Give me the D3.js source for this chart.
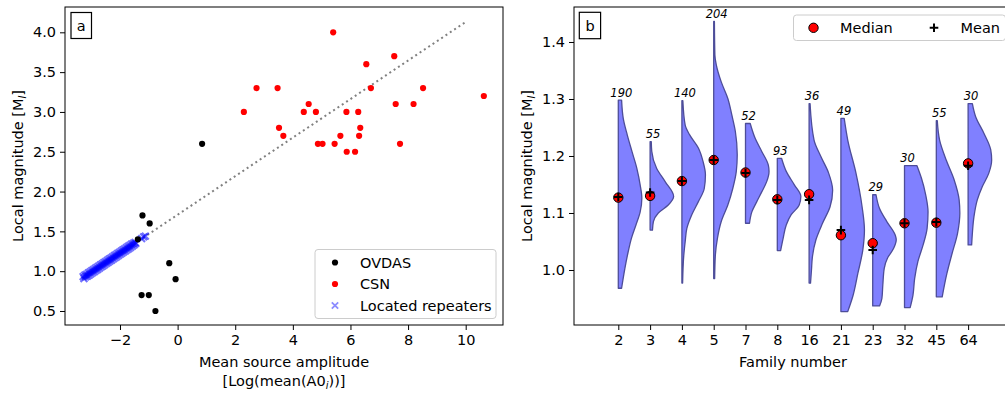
<!DOCTYPE html>
<html><head><meta charset="utf-8">
<script src="https://cdn.jsdelivr.net/npm/d3@7"></script>
<style>
body{margin:0;background:#fff}
text{font-family:"DejaVu Sans",sans-serif;fill:#000}
</style>
</head><body>
<svg id="c" width="1005" height="394"></svg>
<script>
// ---------------- DATA ----------------
// Panel a
const ovdasX = [-1.22, -0.97, -1.38, -0.29, -0.07, -1.25, -1.0, -0.77, 0.85];
const ovdasY = [1.70, 1.60, 1.40, 1.10, 0.90, 0.70, 0.70, 0.50, 2.60];
const csnX = [5.40, 7.52, 6.55, 2.74, 3.47, 6.71, 8.52, 10.63, 4.55, 7.57, 8.19, 2.30, 4.38, 4.80, 5.86, 6.27, 3.52, 6.34, 3.67, 5.65, 6.30, 4.87, 5.03, 5.45, 7.72, 5.87, 6.16];
const csnY = [4.0, 3.7, 3.6, 3.3, 3.3, 3.3, 3.3, 3.2, 3.1, 3.1, 3.1, 3.0, 3.0, 3.0, 3.0, 3.0, 2.8, 2.8, 2.7, 2.7, 2.7, 2.6, 2.6, 2.6, 2.6, 2.5, 2.5];
const repX = [-3.28,-3.25,-3.22,-3.19,-3.16,-3.13,-3.10,-3.07,-3.04,-3.01,-2.98,-2.95,-2.92,-2.89,-2.86,-2.83,-2.80,-2.77,-2.74,-2.71,-2.68,-2.65,-2.62,-2.59,-2.56,-2.53,-2.50,-2.47,-2.44,-2.41,-2.38,-2.35,-2.32,-2.29,-2.26,-2.23,-2.20,-2.17,-2.14,-2.11,-2.08,-2.05,-2.02,-1.99,-1.96,-1.93,-1.90,-1.87,-1.84,-1.81,-1.78,-1.75,-1.72,-1.69,-1.66,-1.63,-1.60,-1.57,-1.54,-1.51,-1.48,-1.45,-1.25,-1.18,-1.12];
const repY = [0.931,0.908,0.951,0.928,0.960,0.938,0.978,0.952,0.990,0.966,1.006,0.981,1.020,0.995,1.034,1.010,1.049,1.024,1.063,1.039,1.078,1.053,1.092,1.068,1.107,1.082,1.121,1.097,1.136,1.111,1.150,1.126,1.165,1.140,1.179,1.155,1.194,1.169,1.208,1.184,1.223,1.198,1.237,1.213,1.252,1.227,1.266,1.242,1.281,1.256,1.295,1.271,1.310,1.285,1.324,1.300,1.339,1.314,1.350,1.330,1.360,1.350,1.410,1.430,1.440];
const fitX = [-3.3, 10];
const fitY = [0.91, 4.13];
const xTicksA = [-2, 0, 2, 4, 6, 8, 10];
const yTicksA = [0.5, 1.0, 1.5, 2.0, 2.5, 3.0, 3.5, 4.0];

// Panel b
const families = ["2","3","4","5","7","8","16","21","23","32","45","64"];
const counts = [190, 55, 140, 204, 52, 93, 36, 49, 29, 30, 55, 30];
const medians = [1.127, 1.130, 1.156, 1.193, 1.171, 1.124, 1.133, 1.061, 1.047, 1.082, 1.083, 1.187];
const means = [1.128, 1.136, 1.156, 1.193, 1.170, 1.123, 1.123, 1.070, 1.035, 1.082, 1.084, 1.183];
const violinVals = [
  [1.298,1.266,1.237,1.208,1.178,1.149,1.126,1.102,1.079,1.056,1.032,1.003,0.968],
  [1.225,1.208,1.178,1.155,1.129,1.114,1.100,1.085,1.070],
  [1.297,1.254,1.237,1.214,1.190,1.167,1.143,1.120,1.097,1.073,1.050,1.026,0.977],
  [1.436,1.377,1.360,1.330,1.301,1.272,1.243,1.202,1.173,1.143,1.114,1.085,1.056,1.026,0.985],
  [1.257,1.231,1.208,1.184,1.173,1.155,1.137,1.120,1.102,1.082],
  [1.196,1.173,1.149,1.129,1.114,1.097,1.079,1.056,1.034],
  [1.292,1.228,1.199,1.170,1.140,1.111,1.082,1.053,1.023,1.000,0.977],
  [1.266,1.228,1.170,1.111,1.070,1.035,0.994,0.953,0.927],
  [1.132,1.108,1.085,1.061,1.053,1.038,1.021,1.003,0.974,0.950,0.937],
  [1.183,1.161,1.132,1.102,1.073,1.044,1.015,0.985,0.956,0.934],
  [1.262,1.228,1.193,1.158,1.123,1.100,1.064,1.029,0.994,0.953],
  [1.292,1.269,1.240,1.211,1.193,1.170,1.146,1.123,1.094,1.064,1.044]
];
const violinDens = [
  [0.14,0.21,0.38,0.58,0.79,0.93,1.0,0.93,0.75,0.56,0.42,0.28,0.14],
  [0.05,0.07,0.28,0.64,1.0,0.77,0.35,0.14,0.10],
  [0.04,0.14,0.33,0.70,0.90,1.0,0.95,0.70,0.42,0.21,0.14,0.08,0.03],
  [0.03,0.05,0.11,0.32,0.60,0.77,0.92,1.0,0.96,0.81,0.60,0.32,0.16,0.07,0.04],
  [0.20,0.41,0.69,0.97,1.0,0.90,0.69,0.48,0.27,0.17],
  [0.18,0.38,0.73,1.0,0.93,0.59,0.38,0.25,0.14],
  [0.04,0.21,0.50,0.83,1.0,0.89,0.57,0.29,0.14,0.10,0.06],
  [0.14,0.29,0.64,0.90,1.0,0.93,0.72,0.50,0.29],
  [0.14,0.29,0.60,0.96,1.0,0.89,0.63,0.49,0.43,0.39,0.29],
  [0.53,0.72,0.90,1.0,0.96,0.79,0.57,0.43,0.36,0.24],
  [0.04,0.14,0.42,0.76,0.97,1.0,0.90,0.67,0.45,0.25],
  [0.18,0.32,0.67,0.96,1.0,0.88,0.60,0.39,0.25,0.18,0.15]
];
const yTicksB = [1.0, 1.1, 1.2, 1.3, 1.4];

// ---------------- DRAW ----------------
const svg = d3.select("#c");
const FS = 14.5;

function styleAxis(g){
  g.select(".domain").remove();
  g.selectAll(".tick line").attr("stroke","#000").attr("stroke-width",1);
  g.selectAll(".tick text").attr("font-size",FS).attr("font-family",'"DejaVu Sans",sans-serif');
}

// ===== Panel a =====
const A = {l:65, r:503, t:7, b:325};
const xa = d3.scaleLinear().domain([-3.909, 11.295]).range([A.l, A.r]);
const ya = d3.scaleLinear().domain([0.324, 4.318]).range([A.b, A.t]);
const ga = svg.append("g");

ga.append("g").attr("transform",`translate(0,${A.b})`)
  .call(d3.axisBottom(xa).tickValues(xTicksA).tickSize(5).tickPadding(5).tickFormat(d3.format("d")))
  .call(styleAxis);
ga.append("g").attr("transform",`translate(${A.l},0)`)
  .call(d3.axisLeft(ya).tickValues(yTicksA).tickSize(5).tickPadding(4).tickFormat(d3.format(".1f")))
  .call(styleAxis);

// fit line
ga.append("path")
  .datum(fitX.map((x,i)=>[x, fitY[i]]))
  .attr("d", d3.line().x(d=>xa(d[0])).y(d=>ya(d[1])))
  .attr("fill","none").attr("stroke","#808080").attr("stroke-width",2)
  .attr("stroke-dasharray","2,3.2");

// repeaters (x markers)
const xm = 3.4;
ga.append("g").selectAll("path").data(repX.map((x,i)=>[x, repY[i]])).join("path")
  .attr("transform", d=>`translate(${xa(d[0])},${ya(d[1])})`)
  .attr("d", `M${-xm},${-xm}L${xm},${xm}M${-xm},${xm}L${xm},${-xm}`)
  .attr("stroke","blue").attr("stroke-opacity",0.55).attr("stroke-width",2.1).attr("fill","none");

// OVDAS
ga.append("g").selectAll("circle").data(ovdasX.map((x,i)=>[x, ovdasY[i]])).join("circle")
  .attr("cx", d=>xa(d[0])).attr("cy", d=>ya(d[1])).attr("r",3.1).attr("fill","#000");
// CSN
ga.append("g").selectAll("circle").data(csnX.map((x,i)=>[x, csnY[i]])).join("circle")
  .attr("cx", d=>xa(d[0])).attr("cy", d=>ya(d[1])).attr("r",3.1).attr("fill","#ff0000");

// frame
ga.append("rect").attr("x",A.l).attr("y",A.t).attr("width",A.r-A.l).attr("height",A.b-A.t)
  .attr("fill","none").attr("stroke","#000").attr("stroke-width",1);

// panel label a
ga.append("rect").attr("x",71).attr("y",12.5).attr("width",20.5).attr("height",26)
  .attr("fill","#fff").attr("stroke","#000").attr("stroke-width",1.2);
ga.append("text").attr("x",81.2).attr("y",30.5).attr("text-anchor","middle").attr("font-size",FS).text("a");

// legend a
const lgA = ga.append("g");
lgA.append("rect").attr("x",315).attr("y",249.5).attr("width",181).attr("height",69).attr("rx",3)
  .attr("fill","#fff").attr("fill-opacity",0.8).attr("stroke","#cccccc").attr("stroke-width",1);
const legItems = [
  {label:"OVDAS", type:"dot", color:"#000"},
  {label:"CSN", type:"dot", color:"#ff0000"},
  {label:"Located repeaters", type:"x", color:"blue"}
];
legItems.forEach((it,i)=>{
  const cy = 262.5 + i*21.5;
  if(it.type==="dot"){
    lgA.append("circle").attr("cx",335).attr("cy",cy).attr("r",3.1).attr("fill",it.color);
  } else {
    lgA.append("path").attr("transform",`translate(335,${cy})`)
      .attr("d", `M${-3.2},${-3.2}L${3.2},${3.2}M${-3.2},${3.2}L${3.2},${-3.2}`)
      .attr("stroke","blue").attr("stroke-opacity",0.45).attr("stroke-width",1.8);
  }
  lgA.append("text").attr("x",360).attr("y",cy+5).attr("font-size",FS).text(it.label);
});

// axis labels a
const yla = ga.append("text").attr("transform","translate(23,166) rotate(-90)")
  .attr("text-anchor","middle").attr("font-size",FS);
yla.append("tspan").text("Local magnitude [M");
yla.append("tspan").attr("font-size",10).attr("font-style","italic").attr("dy",3).text("l");
yla.append("tspan").attr("dy",-3).text("]");
ga.append("text").attr("x",284).attr("y",367).attr("text-anchor","middle").attr("font-size",FS)
  .text("Mean source amplitude");
const xl2 = ga.append("text").attr("x",284).attr("y",385.5).attr("text-anchor","middle").attr("font-size",FS);
xl2.append("tspan").text("[Log(mean(A0");
xl2.append("tspan").attr("font-size",10).attr("font-style","italic").attr("dy",3).text("i");
xl2.append("tspan").attr("dy",-3).text("))]");

// ===== Panel b =====
const B = {l:574, r:1012, t:7, b:325};
const xb = d3.scaleLinear().domain([-0.393, 13.38]).range([B.l, B.r]);
const yb = d3.scaleLinear().domain([0.9035, 1.4614]).range([B.b, B.t]);
const gb = svg.append("g");
const pos = families.map((f,i)=>i+1);
const halfW = 0.74;

gb.append("g").attr("transform",`translate(0,${B.b})`)
  .call(d3.axisBottom(xb).tickValues(pos).tickSize(5).tickPadding(5).tickFormat((d)=>families[d-1]))
  .call(styleAxis);
gb.append("g").attr("transform",`translate(${B.l},0)`)
  .call(d3.axisLeft(yb).tickValues(yTicksB).tickSize(5).tickPadding(4).tickFormat(d3.format(".1f")))
  .call(styleAxis);

// violins
families.forEach((f,i)=>{
  const p = pos[i];
  const pts = violinVals[i].map((v,j)=>({v, d:violinDens[i][j]}));
  const a = d3.area()
    .x0(()=>xb(p))
    .x1(d=>xb(p + halfW*d.d))
    .y(d=>yb(d.v))
    .curve(d3.curveMonotoneY);
  gb.append("path").datum(pts).attr("d", a)
    .attr("fill","#8080ff")
    .attr("stroke","#4d4d99").attr("stroke-width",1.3).attr("stroke-linejoin","round");
  gb.append("text").attr("x", xb(p)+3).attr("y", yb(violinVals[i][0]) - 3.5)
    .attr("text-anchor","middle").attr("font-size",11.5).attr("font-style","italic")
    .text(counts[i]);
});

// medians
gb.append("g").selectAll("circle").data(medians).join("circle")
  .attr("cx",(d,i)=>xb(pos[i])).attr("cy",d=>yb(d)).attr("r",4.7)
  .attr("fill","#ff0000").attr("stroke","#000").attr("stroke-width",1);
// means
const pm = 4.3;
gb.append("g").selectAll("path").data(means).join("path")
  .attr("transform",(d,i)=>`translate(${xb(pos[i])},${yb(d)})`)
  .attr("d",`M${-pm},0H${pm}M0,${-pm}V${pm}`)
  .attr("stroke","#000").attr("stroke-width",2);

// frame
gb.append("rect").attr("x",B.l).attr("y",B.t).attr("width",B.r-B.l).attr("height",B.b-B.t)
  .attr("fill","none").attr("stroke","#000").attr("stroke-width",1);

// panel label b
gb.append("rect").attr("x",579.3).attr("y",12.3).attr("width",21.3).attr("height",26.4)
  .attr("fill","#fff").attr("stroke","#000").attr("stroke-width",1.2);
gb.append("text").attr("x",590).attr("y",30.5).attr("text-anchor","middle").attr("font-size",FS).text("b");

// legend b
const lgB = gb.append("g");
lgB.append("rect").attr("x",793.5).attr("y",15).attr("width",212).attr("height",25.5).attr("rx",3)
  .attr("fill","#fff").attr("fill-opacity",0.8).attr("stroke","#cccccc").attr("stroke-width",1);
lgB.append("circle").attr("cx",813.5).attr("cy",27.8).attr("r",4.7)
  .attr("fill","#ff0000").attr("stroke","#000").attr("stroke-width",1);
lgB.append("text").attr("x",840).attr("y",32.8).attr("font-size",FS).text("Median");
lgB.append("path").attr("transform","translate(934,27.8)")
  .attr("d",`M${-pm},0H${pm}M0,${-pm}V${pm}`).attr("stroke","#000").attr("stroke-width",2);
lgB.append("text").attr("x",960.5).attr("y",32.8).attr("font-size",FS).text("Mean");

// axis labels b
const ylb = gb.append("text").attr("transform","translate(532,166) rotate(-90)")
  .attr("text-anchor","middle").attr("font-size",FS);
ylb.append("tspan").text("Local magnitude [M");
ylb.append("tspan").attr("font-size",10).attr("font-style","italic").attr("dy",3).text("l");
ylb.append("tspan").attr("dy",-3).text("]");
gb.append("text").attr("x",793).attr("y",367).attr("text-anchor","middle").attr("font-size",FS)
  .text("Family number");
</script>
</body></html>
